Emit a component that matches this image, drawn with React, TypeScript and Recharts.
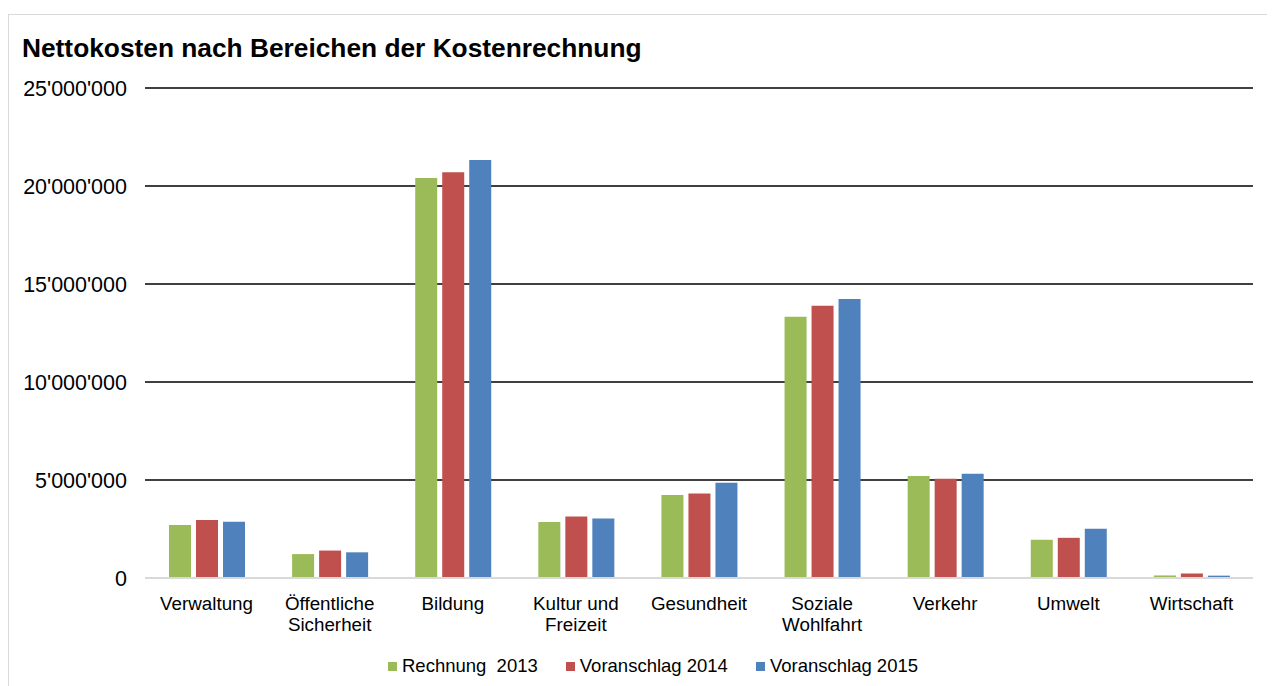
import React from 'react';
import { BarChart, Bar, XAxis, YAxis, CartesianGrid } from 'recharts';

const categories = [
  'Verwaltung',
  'Öffentliche\nSicherheit',
  'Bildung',
  'Kultur und\nFreizeit',
  'Gesundheit',
  'Soziale\nWohlfahrt',
  'Verkehr',
  'Umwelt',
  'Wirtschaft',
];
const rechnung2013 = [2700000, 1220000, 20410000, 2860000, 4230000, 13330000, 5210000, 1950000, 130000];
const voranschlag2014 = [2960000, 1400000, 20700000, 3140000, 4310000, 13890000, 5060000, 2050000, 230000];
const voranschlag2015 = [2870000, 1310000, 21330000, 3040000, 4860000, 14230000, 5320000, 2510000, 120000];
const yTicks = [0, 5000000, 10000000, 15000000, 20000000, 25000000];
const seriesNames = ['Rechnung  2013', 'Voranschlag 2014', 'Voranschlag 2015'];
const colors = ['#9BBB59', '#C0504D', '#4F81BD'];

const data = categories.map((c, i) => ({
  name: c,
  r2013: rechnung2013[i],
  v2014: voranschlag2014[i],
  v2015: voranschlag2015[i],
}));

const FONT = '"Liberation Sans", Arial, sans-serif';

const fmt = (v: number) =>
  v === 0 ? '0' : String(v).replace(/\B(?=(\d{3})+(?!\d))/g, "'");

const XTick = (props: any) => {
  const { x, y, payload } = props;
  const lines = String(payload.value).split('\n');
  return (
    <text x={x} y={y} textAnchor="middle" fill="#000" fontSize={18.8} fontFamily={FONT}>
      {lines.map((l, i) => (
        <tspan key={i} x={x} y={y + 32 + i * 21}>
          {l}
        </tspan>
      ))}
    </text>
  );
};

export default function App() {
  return (
    <div
      style={{
        position: 'relative',
        width: 1267,
        height: 680,
        marginTop: 6,
        borderTop: '1px solid #d9d9d9',
        borderLeft: '1px solid #d9d9d9',
        fontFamily: FONT,
        background: '#fff',
      }}
    >
      <div
        style={{
          position: 'absolute',
          left: 13,
          top: 20,
          fontSize: 26.3,
          lineHeight: '26px',
          fontWeight: 'bold',
          color: '#000',
          whiteSpace: 'nowrap',
        }}
      >
        Nettokosten nach Bereichen der Kostenrechnung
      </div>
      <div style={{ position: 'absolute', left: 0, top: 0 }}>
        <BarChart
          width={1266}
          height={672}
          data={data}
          margin={{ top: 73, right: 22, bottom: 49, left: 0 }}
          barSize={22}
          barGap={5}
        >
          <CartesianGrid
            vertical={false}
            stroke="#000"
            strokeWidth={1.5}
            horizontalValues={[5000000, 10000000, 15000000, 20000000, 25000000]}
          />
          <XAxis
            dataKey="name"
            interval={0}
            tickLine={false}
            tickSize={0}
            tickMargin={0}
            height={60}
            axisLine={{ stroke: '#d9d9d9', strokeWidth: 2 }}
            tick={<XTick />}
          />
          <YAxis
            width={136}
            domain={[0, 25000000]}
            ticks={yTicks}
            tickFormatter={fmt}
            axisLine={false}
            tickLine={false}
            tickSize={0}
            tickMargin={18}
            tick={{ fill: '#000', fontSize: 21.5, fontFamily: FONT }}
          />
          <Bar dataKey="r2013" name={seriesNames[0]} fill={colors[0]} isAnimationActive={false} />
          <Bar dataKey="v2014" name={seriesNames[1]} fill={colors[1]} isAnimationActive={false} />
          <Bar dataKey="v2015" name={seriesNames[2]} fill={colors[2]} isAnimationActive={false} />
        </BarChart>
      </div>
      <div
        style={{
          position: 'absolute',
          left: 379,
          top: 641,
          display: 'flex',
          alignItems: 'center',
          fontSize: 18.5,
          lineHeight: '20px',
          color: '#000',
        }}
      >
        {seriesNames.map((n, i) => (
          <div
            key={n}
            style={{ display: 'flex', alignItems: 'center', marginRight: i < 2 ? 28 : 0 }}
          >
            <span
              style={{ display: 'inline-block', width: 9, height: 9, background: colors[i], marginRight: 5 }}
            />
            <span style={{ whiteSpace: 'pre' }}>{n}</span>
          </div>
        ))}
      </div>
    </div>
  );
}
